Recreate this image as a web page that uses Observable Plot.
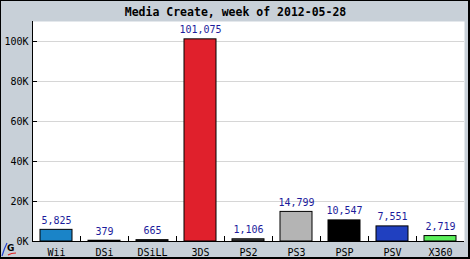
<!DOCTYPE html>
<html><head><meta charset="utf-8">
<script src="https://cdn.jsdelivr.net/npm/d3@7"></script>
<script src="https://cdn.jsdelivr.net/npm/@observablehq/plot@0.6"></script>
<style>
html,body{margin:0;padding:0;background:#fff}
#wrap{position:relative;width:470px;height:259px;box-sizing:border-box;border:1px solid #000;border-right-width:2px;border-bottom-width:2px;background:#c8d0d8;overflow:hidden}
#chart svg{display:block}
#logo{position:absolute;left:0;top:236px}
</style></head><body>
<div id="wrap"><div id="chart"></div>
<svg id="logo" width="20" height="20" viewBox="0 0 20 20">
  <path d="M1,19 Q3,12 6,6" fill="none" stroke="#2040d0" stroke-width="1.2"/>
  <path d="M7,18 Q10,16 15,16" fill="none" stroke="#e02020" stroke-width="1.2"/>
  <text x="6" y="14" font-family="DejaVu Sans" font-weight="bold" font-size="9" fill="#000">G</text>
</svg>
</div>
<script>
const title = "Media Create, week of 2012-05-28";
const categories = ["Wii","DSi","DSiLL","3DS","PS2","PS3","PSP","PSV","X360"];
const sales = [5825,379,665,101075,1106,14799,10547,7551,2719];
const colors = ["#1a84c8","#222222","#222222","#e0202c","#404040","#b4b4b4","#000000","#2040c0","#5cf05c"];
const yTicks = [0,20000,40000,60000,80000,100000];
const yMax = 110000;

const W = 467, H = 256, mL = 31, mR = 4, mT = 20, mB = 16;
const innerW = W - mL - mR, innerH = H - mT - mB;
const step = innerW / categories.length;
const tickLen = 5 * yMax / innerH;
const data = categories.map((c, i) => ({cat: c, value: sales[i], color: colors[i]}));
const fmt = d3.format(",");

const chart = Plot.plot({
  width: W, height: H,
  marginLeft: mL, marginRight: mR, marginTop: mT, marginBottom: mB,
  style: {background: "transparent", fontFamily: "'DejaVu Sans Mono', monospace", fontSize: "10px", color: "#000"},
  x: {domain: categories, paddingInner: 1/3, paddingOuter: 1/6, label: null},
  y: {domain: [0, yMax], label: null},
  marks: [
    Plot.frame({fill: "white", stroke: null}),
    Plot.gridY(yTicks.slice(1), {stroke: "#d6d6d6", strokeOpacity: 1}),
    Plot.barY(data, {x: "cat", y: "value", fill: "color", stroke: "#000", strokeWidth: 1}),
    Plot.text(data, {x: "cat", y: "value", text: d => fmt(d.value), dy: -6, lineAnchor: "bottom", fill: "#1c1c9c"}),
    Plot.ruleX(categories.slice(0, -1), {x: d => d, dx: step / 2, y1: 0, y2: tickLen, stroke: "#000"}),
    Plot.ruleX([categories[0]], {x: d => d, dx: -step / 2, y1: 0, y2: yMax, stroke: "#000"}),
    Plot.ruleY([0], {stroke: "#000"}),
    Plot.axisY(yTicks, {tickSize: 0, tickPadding: 4, tickFormat: d => d / 1000 + "K", fill: "#000"}),
    Plot.axisY(yTicks.slice(1), {tickSize: -5, tickFormat: () => "", stroke: "#000"}),
    Plot.axisX({tickSize: 0, tickPadding: 7, fill: "#000"}),
    Plot.text([title], {frameAnchor: "top", dy: -6, lineAnchor: "bottom", dx: 234 - (mL + innerW / 2), fontWeight: "bold", fontSize: 11.5, fill: "#000"})
  ]
});
document.getElementById("chart").appendChild(chart);
</script>
</body></html>
